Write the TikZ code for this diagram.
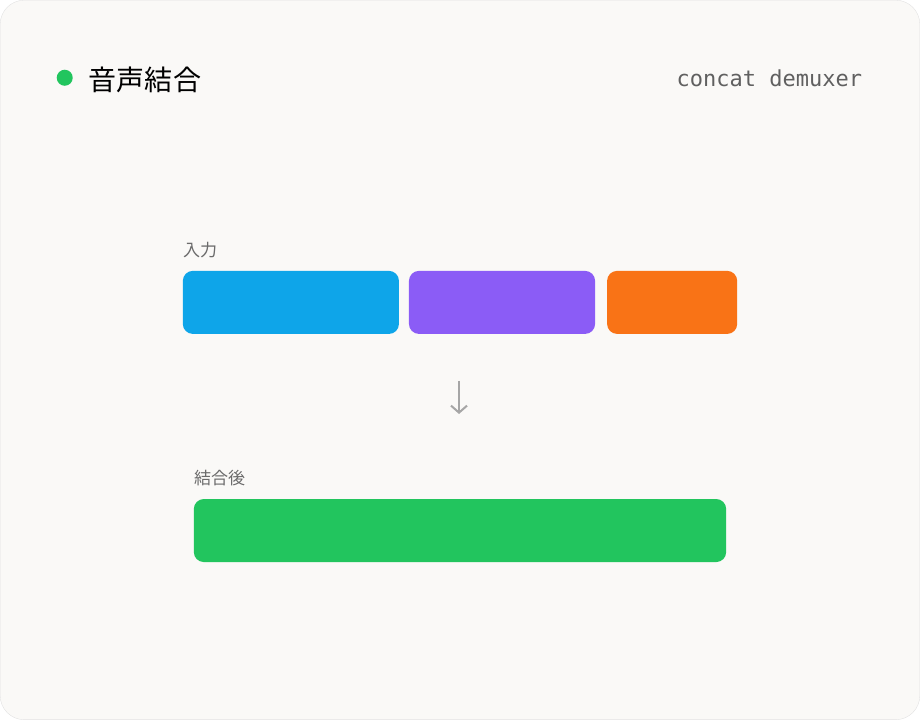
\documentclass[tikz,border=0pt]{standalone}
\usepackage{fontspec}
\newfontfamily\cjk{Noto Sans CJK JP}
\newfontfamily\monof{DejaVu Sans Mono}
\usetikzlibrary{arrows.meta}
\definecolor{cardbg}{HTML}{FAF9F7}
\definecolor{cardline}{HTML}{E2E2E2}
\definecolor{segblue}{HTML}{0EA5E9}
\definecolor{segpurple}{HTML}{8B5CF6}
\definecolor{segorange}{HTML}{F97316}
\definecolor{seggreen}{HTML}{22C55E}
\definecolor{labelgray}{HTML}{6B6B6B}
\begin{document}
\begin{tikzpicture}[x=1pt, y=-1pt,
    segment/.style={rounded corners=10pt},
    caption/.style={anchor=west, text=labelgray, font=\cjk\fontsize{17pt}{20pt}\selectfont, inner sep=0pt}]

    % Card
    \draw[cardline, fill=cardbg, rounded corners=24pt] (0.5,0.5) rectangle (919.5,719.5);

    % Header
    \fill[seggreen] (65,78) circle (8);
    \node[anchor=west, inner sep=0pt, font=\cjk\fontsize{28pt}{32pt}\selectfont] (title) at (89,80) {音声結合};
    \node[anchor=east, inner sep=0pt, text=labelgray!90!black, font=\monof\fontsize{22pt}{26pt}\selectfont] (mode) at (862,79) {concat demuxer};

    % Input segments
    \node[caption] (inlabel) at (183,250) {入力};
    \fill[segment, segblue] (183,271) rectangle (399,334);
    \fill[segment, segpurple] (409,271) rectangle (595,334);
    \fill[segment, segorange] (607,271) rectangle (737,334);

    % Arrow
    \coordinate (arrtop) at (459,381);
    \coordinate (arrbot) at (459,414);
    \draw[gray!70, line width=2pt, -{Straight Barb[length=7pt, width=16pt]}] (arrtop) -- (arrbot);

    % Result
    \node[caption] (outlabel) at (194,478) {結合後};
    \fill[segment, seggreen] (194,499) rectangle (726,562);

\end{tikzpicture}
\end{document}
